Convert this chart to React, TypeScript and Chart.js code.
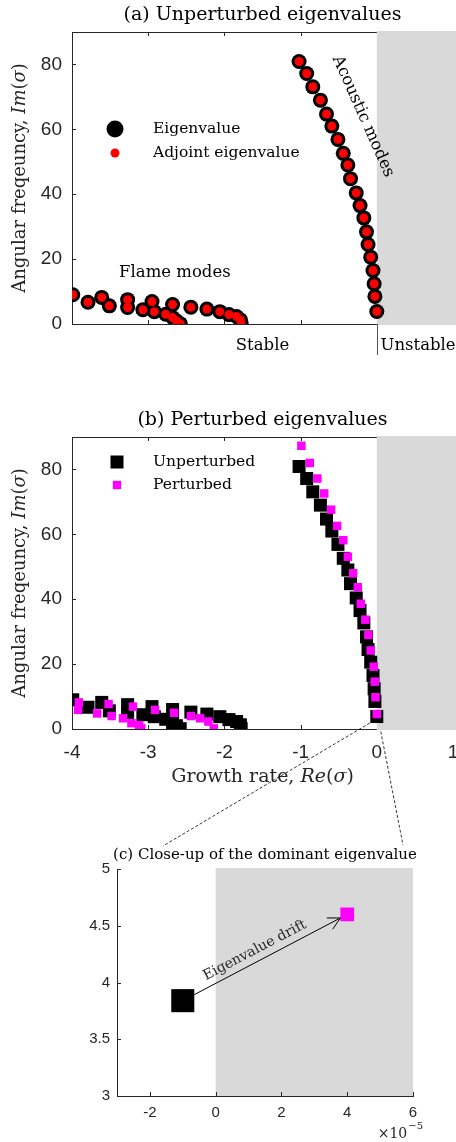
import React, { useEffect, useRef } from 'react';
import { Chart, registerables } from 'chart.js';

Chart.register(...registerables);

// ---- Spectrum data: sigma = Re(sigma) + i Im(sigma) ----
// Acoustic branch of the unperturbed (direct) eigenvalues
const acousticRe = [-1.02, -0.92, -0.84, -0.74, -0.66, -0.59, -0.51, -0.44, -0.38, -0.345, -0.27, -0.22, -0.17, -0.135, -0.115, -0.08, -0.05, -0.035, -0.025, -0.00001];
const acousticIm = [80.9, 77.2, 73.1, 69.0, 64.7, 61.0, 56.9, 52.6, 49.0, 44.8, 40.4, 36.5, 32.7, 28.4, 24.5, 20.6, 16.5, 12.4, 8.5, 3.84];
// Flame branch of the unperturbed eigenvalues
const flameRe = [-3.99, -3.79, -3.61, -3.51, -3.27, -3.27, -3.07, -2.95, -2.92, -2.77, -2.68, -2.68, -2.63, -2.58, -2.44, -2.23, -2.06, -1.94, -1.84, -1.79, -1.78];
const flameIm = [9.0, 6.7, 8.2, 5.6, 7.5, 5.1, 4.4, 6.9, 3.8, 3.0, 6.0, 2.0, 1.0, 0.1, 5.2, 4.6, 3.8, 2.9, 2.3, 1.3, 0.1];
// Perturbed spectrum
const pertAcousticRe = [-0.99, -0.88, -0.78, -0.69, -0.60, -0.52, -0.44, -0.38, -0.31, -0.25, -0.21, -0.15, -0.11, -0.08, -0.04, -0.026, -0.017, 0.00004];
const pertAcousticIm = [87.3, 82.0, 77.2, 72.6, 67.6, 62.6, 58.2, 53.1, 48.0, 43.7, 38.6, 33.7, 29.0, 24.2, 19.2, 14.6, 9.8, 4.6];
const pertFlameRe = [-3.91, -3.92, -3.67, -3.52, -3.48, -3.33, -3.20, -3.22, -3.12, -3.09, -2.91, -2.66, -2.44, -2.32, -2.21, -2.14];
const pertFlameIm = [8.2, 5.9, 4.8, 7.7, 4.0, 3.3, 6.9, 1.8, 1.2, 0.2, 5.9, 5.0, 4.0, 3.3, 2.3, 0.2];
// Dominant eigenvalue before / after the perturbation
const dominantRe = [-1e-5, 4e-5];
const dominantIm = [3.84, 4.6];

// Axis ticks
const reTicks = [-4, -3, -2, -1, 0, 1];
const imTicks = [0, 20, 40, 60, 80];
const closeReTicks = [-2e-5, 0, 2e-5, 4e-5, 6e-5];
const closeImTicks = [3, 3.5, 4, 4.5, 5];

const INK = '#262626';
const SHADE = '#d9d9d9';
const SERIF = '"DejaVu Serif", serif';
const SANS = '"Liberation Sans", Arial, sans-serif';
const MAGENTA = '#ff00ff';

const pairs = (re: number[], im: number[]) => re.map((r, i) => ({ x: r, y: im[i] }));
const fixTicks = (values: number[]) => (scale: any) => {
  scale.ticks = values.map((v) => ({ value: v }));
};
const serif = (size: number, italic = false) => `${italic ? 'italic ' : ''}${size}px ${SERIF}`;

type Part = [string, boolean];

function drawRich(ctx: CanvasRenderingContext2D, parts: Part[], size: number, cx: number, cy: number, rot = 0, align = 'center', color = '#000') {
  ctx.save();
  ctx.translate(cx, cy);
  ctx.rotate(rot);
  ctx.fillStyle = color;
  ctx.textBaseline = 'middle';
  ctx.textAlign = 'left';
  const widths = parts.map(([t, it]) => {
    ctx.font = serif(size, it);
    return ctx.measureText(t).width;
  });
  const total = widths.reduce((s, w) => s + w, 0);
  let x0 = align === 'center' ? -total / 2 : align === 'right' ? -total : 0;
  parts.forEach(([t, it], i) => {
    ctx.font = serif(size, it);
    ctx.fillText(t, x0, 0);
    x0 += widths[i];
  });
  ctx.restore();
}

// Inward tick marks (and optional top box line)
function drawFrame(chart: any, boxTop: boolean) {
  const { ctx, chartArea: a, scales } = chart;
  const x = scales.x;
  const y = scales.y;
  const tl = 4;
  ctx.save();
  ctx.strokeStyle = INK;
  ctx.lineWidth = 1;
  ctx.beginPath();
  for (const t of x.ticks) {
    const px = Math.round(x.getPixelForValue(t.value)) + 0.5;
    ctx.moveTo(px, a.bottom);
    ctx.lineTo(px, a.bottom - tl);
    if (boxTop) {
      ctx.moveTo(px, a.top);
      ctx.lineTo(px, a.top + tl);
    }
  }
  for (const t of y.ticks) {
    const py = Math.round(y.getPixelForValue(t.value)) + 0.5;
    ctx.moveTo(a.left, py);
    ctx.lineTo(a.left + tl, py);
  }
  if (boxTop) {
    ctx.moveTo(a.left, Math.round(a.top) + 0.5);
    ctx.lineTo(a.right, Math.round(a.top) + 0.5);
  }
  ctx.stroke();
  ctx.restore();
}

// Shaded half plane Re(sigma) > 0
function drawUnstable(chart: any, extraRight: number) {
  const { ctx, chartArea: a, scales } = chart;
  const x0 = scales.x.getPixelForValue(0);
  ctx.save();
  ctx.fillStyle = SHADE;
  ctx.fillRect(x0, a.top - 1, a.right + extraRight - x0, a.bottom - a.top + 2);
  ctx.restore();
}

function drawMarker(ctx: CanvasRenderingContext2D, style: string, cx: number, cy: number, half: number, color: string) {
  ctx.fillStyle = color;
  if (style === 'circle') {
    ctx.beginPath();
    ctx.arc(cx, cy, half, 0, Math.PI * 2);
    ctx.fill();
  } else {
    ctx.fillRect(cx - half, cy - half, half * 2, half * 2);
  }
}

const fitX = (h: number) => (s: any) => {
  s.height = h;
  s.paddingLeft = 0;
  s.paddingRight = 0;
};
const fitY = (w: number) => (s: any) => {
  s.width = w;
  s.paddingTop = 0;
  s.paddingBottom = 0;
};

function spectrumScales(showLabels: boolean, xHeight: number) {
  return {
    x: {
      type: 'linear',
      min: -4,
      max: 1,
      afterBuildTicks: fixTicks(reTicks),
      afterFit: fitX(xHeight),
      grid: { display: false, drawTicks: false, tickLength: 0 },
      border: { display: true, color: INK, width: 1 },
      ticks: {
        display: showLabels,
        color: INK,
        font: { family: SANS, size: 19 },
        padding: 12,
        maxRotation: 0,
        autoSkip: false,
        callback: (v: any) => String(v),
      },
    },
    y: {
      type: 'linear',
      min: 0,
      max: 90,
      afterBuildTicks: fixTicks(imTicks),
      afterFit: fitY(72),
      grid: { display: false, drawTicks: false, tickLength: 0 },
      border: { display: true, color: INK, width: 1 },
      ticks: {
        color: INK,
        font: { family: SANS, size: 19 },
        padding: 10,
        autoSkip: false,
        callback: (v: any) => String(v),
      },
    },
  };
}

const imTitle: Part[] = [['Angular freqeuncy, ', false], ['Im', true], ['(', false], ['σ', true], [')', false]];

const panelA = {
  id: 'panelA',
  beforeDatasetsDraw(chart: any) {
    drawFrame(chart, true);
    drawUnstable(chart, 3);
  },
  afterDraw(chart: any) {
    const { ctx, chartArea: a, scales } = chart;
    const x = scales.x;
    const y = scales.y;
    drawRich(ctx, [['(a) Unperturbed eigenvalues', false]], 19, (a.left + a.right) / 2, a.top - 17);
    drawRich(ctx, imTitle, 18, 20, (a.top + a.bottom) / 2, -Math.PI / 2, 'center', INK);
    // legend
    const ds = chart.data.datasets;
    ctx.save();
    drawMarker(ctx, 'circle', a.left + 43, a.top + 97, 8.5, ds[0].backgroundColor);
    drawMarker(ctx, 'circle', a.left + 43, a.top + 121, 4.5, ds[1].backgroundColor);
    ctx.restore();
    drawRich(ctx, [[ds[0].label, false]], 15.5, a.left + 81, a.top + 97, 0, 'left');
    drawRich(ctx, [[ds[1].label, false]], 15.5, a.left + 81, a.top + 121, 0, 'left');
    // branch annotations
    drawRich(ctx, [['Flame modes', false]], 16.5, x.getPixelForValue(-2.65), y.getPixelForValue(15.8));
    drawRich(ctx, [['Acoustic modes', false]], 16.5, x.getPixelForValue(-0.18), y.getPixelForValue(64), (66 * Math.PI) / 180);
    // stability divide below the axis
    const x0 = Math.round(x.getPixelForValue(0)) + 0.5;
    ctx.save();
    ctx.strokeStyle = '#555';
    ctx.lineWidth = 1;
    ctx.beginPath();
    ctx.moveTo(x0, a.bottom);
    ctx.lineTo(x0, a.bottom + 31);
    ctx.stroke();
    ctx.restore();
    drawRich(ctx, [['Stable', false]], 16.5, x.getPixelForValue(-1.5), a.bottom + 22);
    drawRich(ctx, [['Unstable', false]], 16.5, x0 + 3, a.bottom + 22, 0, 'left');
  },
};

const panelB = {
  id: 'panelB',
  beforeDatasetsDraw(chart: any) {
    drawFrame(chart, true);
    drawUnstable(chart, 3);
  },
  afterDraw(chart: any) {
    const { ctx, chartArea: a, scales } = chart;
    const x = scales.x;
    const y = scales.y;
    drawRich(ctx, [['(b) Perturbed eigenvalues', false]], 19, (a.left + a.right) / 2, a.top - 17);
    drawRich(ctx, imTitle, 18, 20, (a.top + a.bottom) / 2, -Math.PI / 2, 'center', INK);
    drawRich(ctx, [['Growth rate, ', false], ['Re', true], ['(', false], ['σ', true], [')', false]], 19, (a.left + a.right) / 2, a.bottom + 48, 0, 'center', INK);
    const ds = chart.data.datasets;
    ctx.save();
    drawMarker(ctx, 'rect', a.left + 45, a.top + 25, 6.5, ds[0].backgroundColor);
    drawMarker(ctx, 'rect', a.left + 45, a.top + 48, 4.2, ds[1].backgroundColor);
    ctx.restore();
    drawRich(ctx, [[ds[0].label, false]], 15.5, a.left + 81, a.top + 25, 0, 'left');
    drawRich(ctx, [[ds[1].label, false]], 15.5, a.left + 81, a.top + 48, 0, 'left');
    // leader lines towards the close-up of the dominant eigenvalue
    const px = x.getPixelForValue(dominantRe[0]);
    const py = y.getPixelForValue(dominantIm[0]);
    ctx.save();
    ctx.strokeStyle = '#000';
    ctx.lineWidth = 0.8;
    ctx.setLineDash([3, 2]);
    ctx.beginPath();
    ctx.moveTo(px - 7, py + 6.5);
    ctx.lineTo(a.left + 91, a.bottom + 117);
    ctx.moveTo(px + 4, py + 15);
    ctx.lineTo(a.left + 331, a.bottom + 116);
    ctx.stroke();
    ctx.restore();
  },
};

const panelC = {
  id: 'panelC',
  beforeDraw(chart: any) {
    drawUnstable(chart, 0);
  },
  beforeDatasetsDraw(chart: any) {
    drawFrame(chart, false);
  },
  afterDatasetsDraw(chart: any) {
    const { ctx, scales } = chart;
    const x = scales.x;
    const y = scales.y;
    const ds = chart.data.datasets;
    const p = { x: x.getPixelForValue(dominantRe[0]), y: y.getPixelForValue(dominantIm[0]) };
    const q = { x: x.getPixelForValue(dominantRe[1]), y: y.getPixelForValue(dominantIm[1]) };
    const hp = ds[0].pointRadius * Math.SQRT1_2;
    const hq = ds[1].pointRadius * Math.SQRT1_2;
    const vx = q.x - p.x;
    const vy = q.y - p.y;
    const m = Math.max(Math.abs(vx), Math.abs(vy));
    const sx = p.x + (vx * hp) / m;
    const sy = p.y + (vy * hp) / m;
    const ex = q.x - (vx * hq) / m;
    const ey = q.y - (vy * hq) / m;
    const ang = Math.atan2(ey - sy, ex - sx);
    const head = 13.5;
    const spread = (28 * Math.PI) / 180;
    ctx.save();
    ctx.strokeStyle = '#000';
    ctx.lineWidth = 1;
    ctx.beginPath();
    ctx.moveTo(sx, sy);
    ctx.lineTo(ex, ey);
    ctx.moveTo(ex - head * Math.cos(ang + spread), ey - head * Math.sin(ang + spread));
    ctx.lineTo(ex, ey);
    ctx.lineTo(ex - head * Math.cos(ang - spread), ey - head * Math.sin(ang - spread));
    ctx.stroke();
    ctx.restore();
    const len = Math.hypot(ex - sx, ey - sy);
    const tx = sx + 0.45 * len * Math.cos(ang) + 11 * Math.sin(ang);
    const ty = sy + 0.45 * len * Math.sin(ang) - 11 * Math.cos(ang);
    drawRich(ctx, [['Eigenvalue drift', false]], 14, tx, ty, ang, 'center', INK);
  },
  afterDraw(chart: any) {
    const { ctx, chartArea: a } = chart;
    drawRich(ctx, [['(c) Close-up of the dominant eigenvalue', false]], 15, (a.left + a.right) / 2, a.top - 14);
    // exponent of the Re axis
    ctx.save();
    ctx.fillStyle = INK;
    ctx.textBaseline = 'middle';
    ctx.textAlign = 'left';
    ctx.font = serif(14);
    const base = '×10';
    const wBase = ctx.measureText(base).width;
    ctx.font = serif(10);
    const exp = '−5';
    const wExp = ctx.measureText(exp).width;
    const xr = a.right + 9 - wBase - wExp;
    const yb = a.bottom + 38;
    ctx.font = serif(14);
    ctx.fillText(base, xr, yb);
    ctx.font = serif(10);
    ctx.fillText(exp, xr + wBase + 1, yb - 8);
    ctx.restore();
  },
};

export default function App() {
  const refA = useRef<HTMLCanvasElement>(null);
  const refB = useRef<HTMLCanvasElement>(null);
  const refC = useRef<HTMLCanvasElement>(null);

  useEffect(() => {
    const unperturbed = [...pairs(flameRe, flameIm), ...pairs(acousticRe, acousticIm)];
    const perturbed = [...pairs(pertFlameRe, pertFlameIm), ...pairs(pertAcousticRe, pertAcousticIm)];
    const common = {
      animation: false,
      responsive: false,
      events: [],
      plugins: { legend: { display: false }, tooltip: { enabled: false }, title: { display: false } },
    };

    // order: higher value is painted first, so the second series sits on top
    const chartA = new Chart(refA.current as HTMLCanvasElement, {
      type: 'scatter',
      data: {
        datasets: [
          { label: 'Eigenvalue', data: unperturbed, order: 2, pointStyle: 'circle', pointRadius: 7.5, backgroundColor: '#000000', borderWidth: 0 },
          { label: 'Adjoint eigenvalue', data: unperturbed, order: 1, pointStyle: 'circle', pointRadius: 4.5, backgroundColor: '#ff0000', borderWidth: 0 },
        ],
      },
      options: {
        ...common,
        layout: { autoPadding: false, padding: { top: 32, right: 3, left: 0, bottom: 0 } },
        scales: spectrumScales(false, 46),
      } as any,
      plugins: [panelA],
    });

    const chartB = new Chart(refB.current as HTMLCanvasElement, {
      type: 'scatter',
      data: {
        datasets: [
          { label: 'Unperturbed', data: unperturbed, order: 2, pointStyle: 'rect', pointRadius: 9.2, backgroundColor: '#000000', borderWidth: 0 },
          { label: 'Perturbed', data: perturbed, order: 1, pointStyle: 'rect', pointRadius: 6.0, backgroundColor: MAGENTA, borderWidth: 0 },
        ],
      },
      options: {
        ...common,
        layout: { autoPadding: false, padding: { top: 57, right: 3, left: 0, bottom: 71 } },
        scales: spectrumScales(true, 60),
      } as any,
      plugins: [panelB],
    });

    const chartC = new Chart(refC.current as HTMLCanvasElement, {
      type: 'scatter',
      data: {
        datasets: [
          { label: 'Unperturbed', data: [{ x: dominantRe[0], y: dominantIm[0] }], order: 2, pointStyle: 'rect', pointRadius: 16.3, backgroundColor: '#000000', borderWidth: 0 },
          { label: 'Perturbed', data: [{ x: dominantRe[1], y: dominantIm[1] }], order: 1, pointStyle: 'rect', pointRadius: 9.7, backgroundColor: MAGENTA, borderWidth: 0 },
        ],
      },
      options: {
        ...common,
        layout: { autoPadding: false, padding: { top: 39, right: 43, left: 0, bottom: 0 } },
        scales: {
          x: {
            type: 'linear',
            min: -3e-5,
            max: 6e-5,
            afterBuildTicks: fixTicks(closeReTicks),
            afterFit: fitX(46),
            grid: { display: false, drawTicks: false, tickLength: 0 },
            border: { display: true, color: INK, width: 1 },
            ticks: {
              color: INK,
              font: { family: SANS, size: 15 },
              padding: 8,
              maxRotation: 0,
              autoSkip: false,
              callback: (v: any) => String(Math.round(v * 1e5)),
            },
          },
          y: {
            type: 'linear',
            min: 3,
            max: 5,
            afterBuildTicks: fixTicks(closeImTicks),
            afterFit: fitY(117),
            grid: { display: false, drawTicks: false, tickLength: 0 },
            border: { display: true, color: INK, width: 1 },
            ticks: {
              color: INK,
              font: { family: SANS, size: 15 },
              padding: 7,
              autoSkip: false,
              callback: (v: any) => String(v),
            },
          },
        },
      } as any,
      plugins: [panelC],
    });

    return () => {
      chartA.destroy();
      chartB.destroy();
      chartC.destroy();
    };
  }, []);

  return (
    <div style={{ position: 'absolute', left: 0, top: 0, width: 456, height: 1142, background: '#ffffff', overflow: 'hidden' }}>
      <canvas ref={refA} width={456} height={370} style={{ position: 'absolute', left: 0, top: 0 }} />
      <canvas ref={refB} width={456} height={480} style={{ position: 'absolute', left: 0, top: 380 }} />
      <canvas ref={refC} width={456} height={312} style={{ position: 'absolute', left: 0, top: 830 }} />
    </div>
  );
}
